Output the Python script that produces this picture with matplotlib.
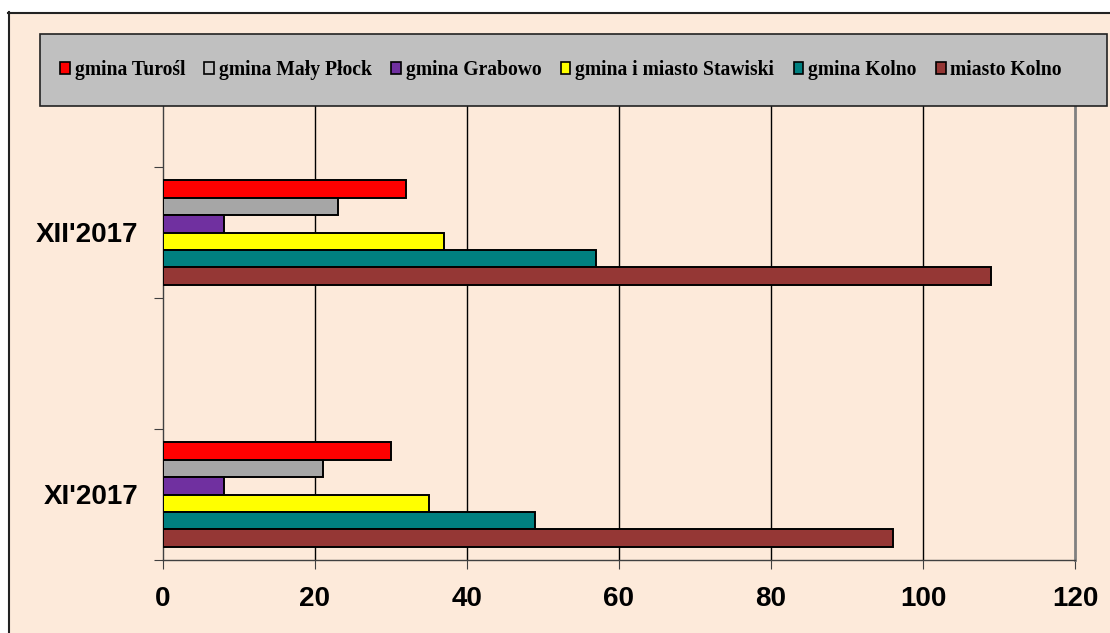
import matplotlib
matplotlib.use('Agg')   # no display available
import matplotlib.pyplot as plt
from matplotlib.patches import Rectangle
from matplotlib.lines import Line2D

# Data
periods = ["XI'2017", "XII'2017"]
series = ['gmina Turośl', 'gmina Mały Płock', 'gmina Grabowo',
          'gmina i miasto Stawiski', 'gmina Kolno', 'miasto Kolno']
values_xi = [30, 21, 8, 35, 49, 96]
values_xii = [32, 23, 8, 37, 57, 109]
colors = ['#FF0000', '#A6A6A6', '#7030A0', '#FFFF00', '#008080', '#953735']
x_ticks = [0, 20, 40, 60, 80, 100, 120]

W, H = 1110, 633
fig = plt.figure(figsize=(W / 100, H / 100), dpi=100, facecolor='white')

# peach chart background with black left/top border
fig.patches.append(Rectangle((8 / W, 0), 1, 1 - 12 / H, transform=fig.transFigure,
                             facecolor='#FDEADA', edgecolor='none', zorder=-2))
fig.lines.append(Line2D([8.5 / W, 8.5 / W], [0, 1 - 12 / H], transform=fig.transFigure,
                        color='#222222', lw=1.5, zorder=-1))
fig.lines.append(Line2D([8 / W, 1], [1 - 12.5 / H, 1 - 12.5 / H], transform=fig.transFigure,
                        color='#222222', lw=1.5, zorder=-1))

ax = fig.add_axes([163 / W, 1 - 560 / H, (1075 - 163) / W, (560 - 36) / H])
ax.set_facecolor('none')

# category positions: XI at 0, XII at 2, empty bands between
cat_pos = [0, 2]
group = 0.8
h = group / len(series)
for i, name in enumerate(series):
    vals = [values_xi[i], values_xii[i]]
    ys = [p + (len(series) / 2 - 0.5 - i) * h for p in cat_pos]
    ax.barh(ys, vals, height=h, color=colors[i], edgecolor='black', linewidth=1.4,
            label=name, zorder=3)

ax.set_xlim(0, 120)
ax.set_ylim(-0.5, 3.5)
ax.set_xticks(x_ticks)
ax.set_xticklabels([str(t) for t in x_ticks], fontsize=20, fontweight='bold',
                   family='Liberation Sans')
ax.tick_params(axis='x', length=6.5, width=0.8, color='#404040', pad=12)

ax.set_yticks(cat_pos)
ax.set_yticklabels(periods, fontsize=20, fontweight='bold', family='Liberation Sans')
ax.tick_params(axis='y', which='major', length=0, pad=18)
ax.set_yticks([-0.5, 0.5, 1.5, 2.5], minor=True)
ax.tick_params(axis='y', which='minor', length=6.5, width=0.8, color='#404040')

# vertical gridlines
for t in x_ticks[1:-1]:
    ax.axvline(t, color='black', lw=1.0, zorder=1)

for side in ['left', 'bottom']:
    ax.spines[side].set_color('#404040')
    ax.spines[side].set_linewidth(1.0)
ax.spines['top'].set_visible(False)
ax.spines['right'].set_color('#808080')
ax.spines['right'].set_linewidth(2.0)

# legend on a gray box
fig.patches.append(Rectangle((40 / W, 1 - 106 / H), 1067 / W, 72 / H, transform=fig.transFigure,
                             facecolor='#C0C0C0', edgecolor='#222222', lw=1.2, zorder=1))
handles, labels = ax.get_legend_handles_labels()
leg = fig.legend(handles, labels, loc='center', bbox_to_anchor=(561 / W, 1 - 70 / H),
                 ncol=6, frameon=False, handlelength=0.5, handleheight=0.5,
                 handletextpad=0.25, columnspacing=0.98,
                 prop={'family': 'Liberation Serif', 'weight': 'bold', 'size': 14.1})
leg.set_zorder(2)
for p in leg.get_patches():
    p.set_linewidth(1.2)
leg.get_patches()[1].set_facecolor('#C0C0C0')

fig.savefig('out.png', dpi=100)
